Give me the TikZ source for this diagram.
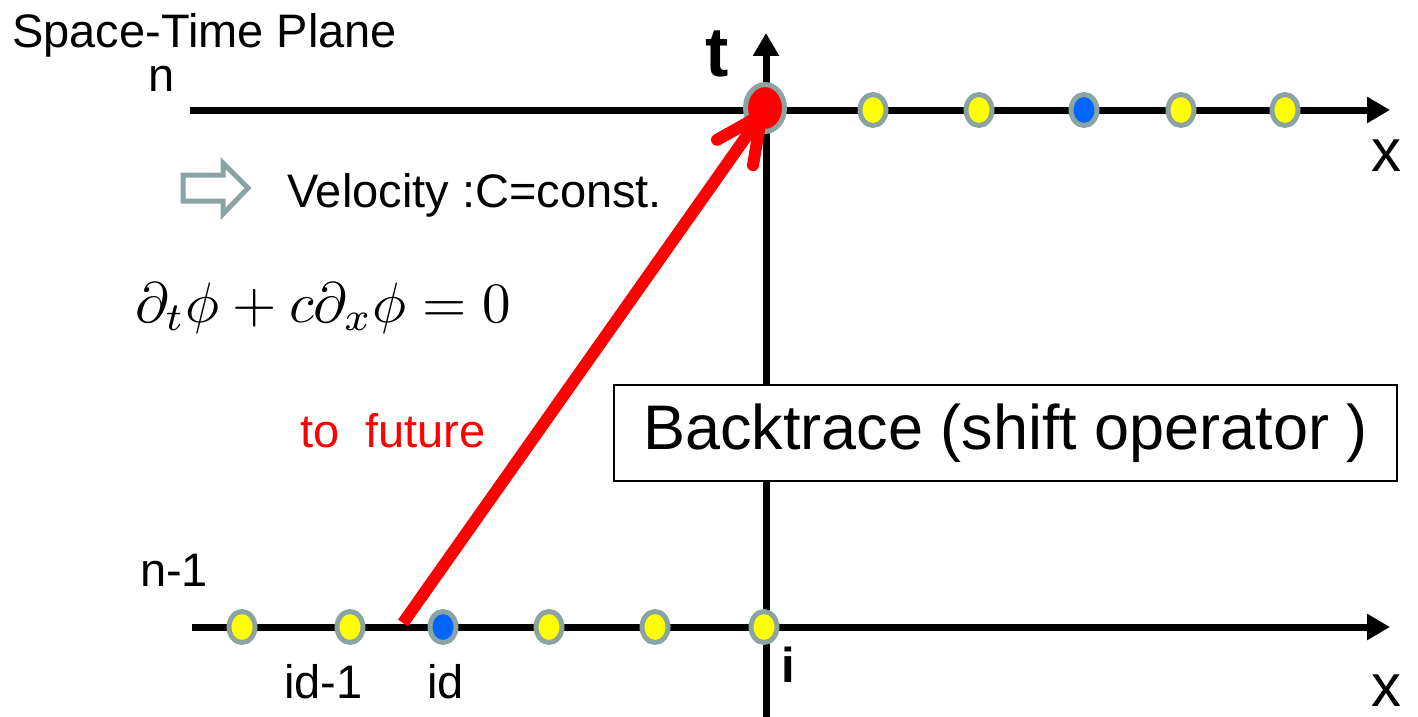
\documentclass[tikz,border=0pt]{standalone}
\usepackage{fontspec}
\setmainfont{Liberation Sans}
\usetikzlibrary{arrows.meta,shapes.geometric}
\definecolor{dotgray}{RGB}{140,163,163}
\definecolor{dotblue}{RGB}{0,102,255}
\definecolor{dotyellow}{RGB}{255,255,0}
\definecolor{arrred}{RGB}{255,0,0}
\tikzset{
  axis/.style={line width=7pt,-{Triangle[length=23pt,width=25pt]}},
  dotnode/.style={ellipse,draw=dotgray,line width=5pt,minimum width=26pt,minimum height=31pt,inner sep=0pt},
  ydot/.style={dotnode,fill=dotyellow},
  bdot/.style={dotnode,fill=dotblue},
  lbl/.style={inner sep=0pt,anchor=base west,font=\fontsize{47}{56}\selectfont},
}
\begin{document}
\begin{tikzpicture}[x=1pt,y=-1pt]
\useasboundingbox (0,0) rectangle (1418,717);
% axes
\coordinate (tbot) at (766,717);
\coordinate (ttop) at (766,33);
\coordinate (nl) at (190,110);
\coordinate (nr) at (1390,110);
\coordinate (ml) at (192,627);
\coordinate (mr) at (1390,627);
\draw[axis] (tbot) -- (ttop);
\draw[axis] (nl) -- (nr);
\draw[axis] (ml) -- (mr);
% top row dots
\node[dotnode,fill=arrred,minimum width=39pt,minimum height=47pt] (r0) at (765,108) {};
\node[ydot] (t1) at (873,110) {};
\node[ydot] (t2) at (979,110) {};
\node[bdot] (t3) at (1084,110) {};
\node[ydot] (t4) at (1181,110) {};
\node[ydot] (t5) at (1285,110) {};
% bottom row dots
\node[ydot] (b1) at (242,627) {};
\node[ydot] (b2) at (350,627) {};
\node[bdot] (b3) at (443,627) {};
\node[ydot] (b4) at (549,627) {};
\node[ydot] (b5) at (655,627) {};
\node[ydot] (b6) at (764,627) {};
% red arrow
\coordinate (rs) at (403,623);
\coordinate (re) at (765,110);
\draw[arrred,line width=12pt,line cap=butt,-{Straight Barb[length=46pt,width=44pt,round]}] (rs) -- (re);
% hollow arrow symbol
\draw[dotgray,line width=5pt,line join=miter] (183,175) -- (223,175) -- (223,163) -- (248,188) -- (223,214) -- (223,201) -- (183,201) -- cycle;
% box
\node[draw,line width=2pt,fill=white,minimum width=783pt,minimum height=96pt,inner sep=0pt,font=\fontsize{63}{72}\selectfont] (bt) at (1005.5,433) {Backtrace (shift operator )};
% labels
\node[lbl] (title) at (12,48) {Space-Time Plane};
\node[lbl] (ln) at (148,92) {n};
\node[lbl] (ln1) at (140,586) {n-1};
\node[lbl] (vel) at (287,207) {Velocity :C=const.};
\node[lbl,text=arrred] (fut) at (300,447) {to\ \ future};
\node[lbl] (idm) at (284,698) {id-1};
\node[lbl] (id) at (427,698) {id};
\node[lbl,font=\fontsize{49}{56}\selectfont\bfseries] (li) at (781,682) {i};
\node[lbl,font=\fontsize{60}{70}\selectfont] (x1) at (1371,171) {x};
\node[lbl,font=\fontsize{60}{70}\selectfont] (x2) at (1371,706) {x};
\node[lbl,font=\fontsize{70}{80}\selectfont\bfseries] (lt) at (705,77) {t};
\node[inner sep=0pt,anchor=base west,font=\fontsize{10}{12}\selectfont,scale=5.7] (eq) at (134,322) {$\partial_t\phi + c\partial_x\phi = 0$};
\end{tikzpicture}
\end{document}
